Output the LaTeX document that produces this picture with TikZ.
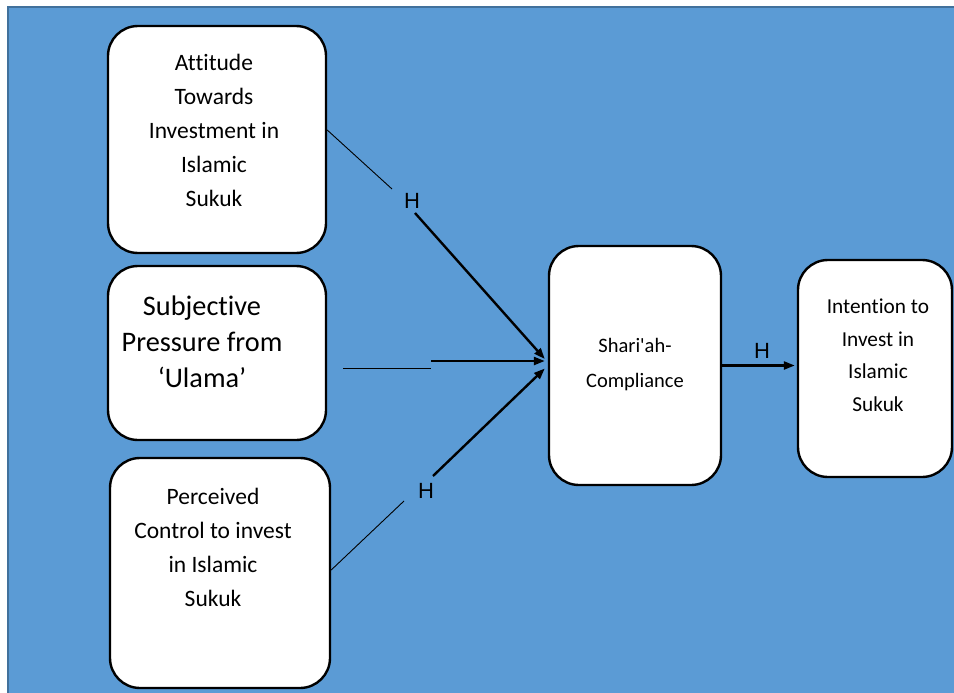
\documentclass[tikz,border=0pt]{standalone}
\usepackage{fontspec}
\setmainfont{Carlito}[Ligatures={CommonOff,TeXOff}]
\newfontfamily\hfont{Liberation Sans}
\usepackage{xcolor}
\usetikzlibrary{arrows.meta}
\definecolor{bgblue}{HTML}{5B9BD5}
\definecolor{bgedge}{HTML}{41719C}
\begin{document}
\begin{tikzpicture}[x=1pt,y=-1pt,
		box/.style={draw=black,line width=2.4pt,fill=white,rounded corners=30pt,inner sep=0pt,rectangle},
		boxtext/.style={align=center,inner sep=0pt},
		thinln/.style={line width=0.9pt},
		thickarr/.style={line width=2.4pt,-{Triangle[length=11pt,width=8pt]}},
		hlab/.style={inner sep=0pt,font=\hfont\fontsize{22}{26}\selectfont}]
		\useasboundingbox (0,0) rectangle (954,693);
		\fill[bgblue] (8,7) rectangle (954,693);
		\draw[bgedge,line width=1.5pt] (8,693)--(8,7)--(954,7);
		% boxes
		\node[box,minimum width=218,minimum height=227] (att) at (217,139.5) {};
		\node[box,minimum width=218,minimum height=174] (sub) at (217,353) {};
		\node[box,minimum width=220,minimum height=230] (per) at (220,573) {};
		\node[box,minimum width=172,minimum height=239] (shar) at (635,365.5) {};
		\node[box,minimum width=154,minimum height=217] (int) at (875,368.5) {};
		% texts
		\node[boxtext,font=\fontsize{23.5}{34}\selectfont] (att-t) at (214,130) {Attitude\\Towards\\Investment in\\Islamic\\Sukuk};
		\node[boxtext,font=\fontsize{28.3}{36}\selectfont] (sub-t) at (202,342) {Subjective\\Pressure from\\‘Ulama’};
		\node[boxtext,font=\fontsize{23.5}{34}\selectfont] (per-t) at (213,547) {Perceived\\Control to invest\\in Islamic\\Sukuk};
		\node[boxtext,font=\fontsize{20.5}{35}\selectfont] (shar-t) at (635,365) {Shari'ah-\\Compliance};
		\node[boxtext,font=\fontsize{21.3}{32.5}\selectfont] (int-t) at (878,355) {Intention to\\Invest in\\Islamic\\Sukuk};
		% H labels
		\node[hlab] (h1) at (412,201) {H};
		\node[hlab] (h3) at (426,491) {H};
		\node[hlab] (h4) at (762,351) {H};
		\coordinate (h1a) at (392,189);
		\coordinate (h1b) at (415,213);
		\coordinate (h2a) at (431,368);
		\coordinate (h2b) at (431,361);
		\coordinate (h3a) at (404,501);
		\coordinate (h3b) at (433,476);
		% connectors
		\draw[thinln] ([yshift=9.5pt]att.east) -- (h1a);
		\draw[thickarr] (h1b) -- ([xshift=-3pt,yshift=6.5pt]shar.west);
		\draw[thinln] ([xshift=16pt,yshift=-15pt]sub.east) -- (h2a);
		\draw[thickarr] (h2b) -- ([xshift=-3pt,yshift=4.5pt]shar.west);
		\draw[thinln] ([yshift=3pt]per.east) -- (h3a);
		\draw[thickarr] (h3b) -- ([xshift=-3pt,yshift=-3pt]shar.west);
		\draw[thickarr] (shar.east) -- ([xshift=-2pt]int.west |- shar.east);
\end{tikzpicture}
\end{document}
